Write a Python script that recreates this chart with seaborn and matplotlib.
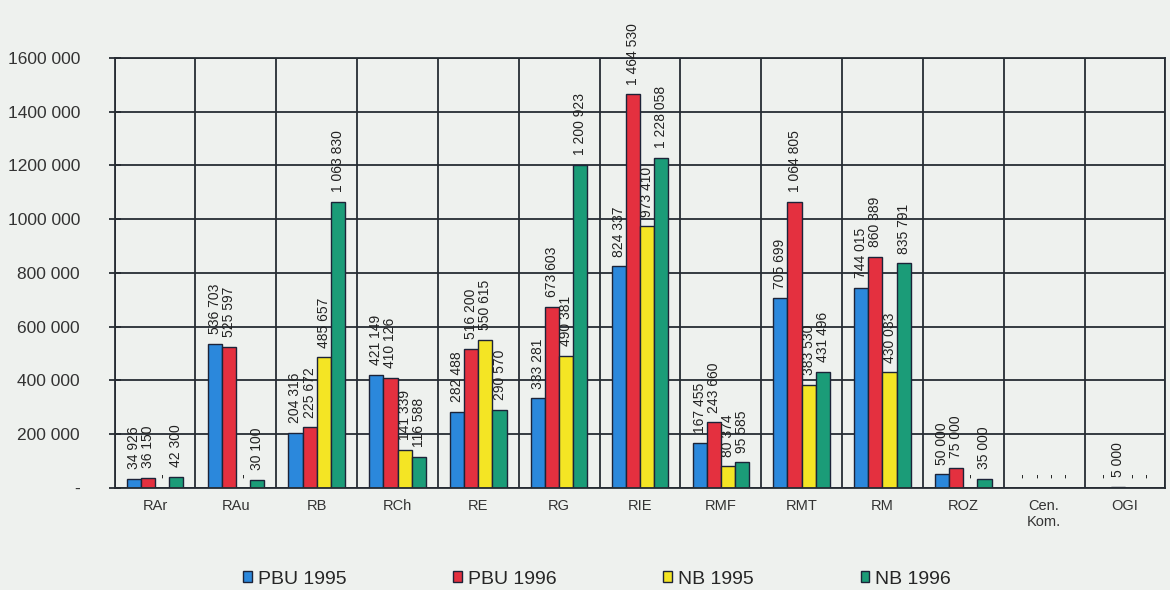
import numpy as np
import pandas as pd
import matplotlib.pyplot as plt
import seaborn as sns

sns.set_theme(style="white")
plt.rcParams["font.family"] = ["Liberation Sans", "DejaVu Sans"]

# dane
kategorie = ["RAr", "RAu", "RB", "RCh", "RE", "RG", "RIE", "RMF", "RMT", "RM", "ROZ", "Cen.\nKom.", "OGI"]
serie = ["PBU 1995", "PBU 1996", "NB 1995", "NB 1996"]
pbu_1995 = [34926, 536703, 204316, 421149, 282488, 333281, 824337, 167455, 705699, 744015, 50000, 0, 0]
pbu_1996 = [36150, 525597, 225672, 410126, 516200, 673603, 1464530, 243660, 1064805, 860389, 75000, 0, 5000]
nb_1995 = [0, 0, 485657, 141339, 550615, 490381, 973410, 80374, 383530, 430033, 0, 0, 0]
nb_1996 = [42300, 30100, 1063830, 116588, 290570, 1200923, 1228058, 95585, 431496, 835791, 35000, 0, 0]
kolory = ["#2b88dc", "#e4303f", "#f4e524", "#1b9c78"]
y_ticks = [0, 200000, 400000, 600000, 800000, 1000000, 1200000, 1400000, 1600000]
y_labels = ["-", "200 000", "400 000", "600 000", "800 000", "1000 000", "1200 000", "1400 000", "1600 000"]

wartosci = [pbu_1995, pbu_1996, nb_1995, nb_1996]
df = pd.DataFrame({
    "kategoria": np.repeat([kategorie], len(serie), axis=0).ravel(),
    "seria": np.repeat(serie, len(kategorie)),
    "wartosc": np.concatenate(wartosci),
})

tlo = "#eef1ee"
linia = "#262c33"

fig, ax = plt.subplots(figsize=(11.7, 5.9), dpi=100)
fig.patch.set_facecolor(tlo)
ax.set_facecolor(tlo)
fig.subplots_adjust(left=0.098, right=0.996, bottom=0.173, top=0.902)

sns.barplot(data=df, x="kategoria", y="wartosc", hue="seria", order=kategorie,
            hue_order=serie, palette=kolory, saturation=1, width=0.7,
            edgecolor="#1c2338", linewidth=1, ax=ax)

# etykiety nad slupkami
for kontener, vals in zip(ax.containers, wartosci):
    for slupek, v in zip(kontener.patches, vals):
        tekst = f"{v:,}".replace(",", " ") if v > 0 else "-"
        ax.annotate(tekst, (slupek.get_x() + slupek.get_width() / 2, v),
                    xytext=(0, 7), textcoords="offset points", rotation=90,
                    ha="center", va="bottom", fontsize=10, color="#222")

ax.set_xlim(-0.5, len(kategorie) - 0.5)
ax.set_ylim(0, 1600000)
ax.set_yticks(y_ticks)
ax.set_yticklabels(y_labels, fontsize=12.5)
ax.set_xticks(range(len(kategorie)))
ax.set_xticklabels(kategorie, fontsize=10.5)
ax.set_xticks(np.arange(-0.5, len(kategorie), 1), minor=True)
ax.set_xlabel("")
ax.set_ylabel("")

ax.grid(which="minor", axis="x", color=linia, linewidth=1.3)
ax.grid(which="major", axis="y", color=linia, linewidth=1.3)
ax.set_axisbelow(True)
ax.tick_params(axis="x", which="major", length=0, pad=8, labelcolor="#333")
ax.tick_params(axis="x", which="minor", length=5, direction="out", color=linia, width=1.3)
ax.tick_params(axis="y", length=8, direction="inout", color=linia, width=1.3, left=True,
               labelcolor="#333", pad=21)
for s in ax.spines.values():
    s.set_color(linia)
    s.set_linewidth(1.3)

sns.move_legend(ax, "lower center", bbox_to_anchor=(0.459, -0.273), ncol=4,
                frameon=False, title=None, fontsize=14, handlelength=0.45,
                handleheight=0.5, columnspacing=5.5, handletextpad=0.3)

plt.savefig("out.png", dpi=100, facecolor=tlo)
